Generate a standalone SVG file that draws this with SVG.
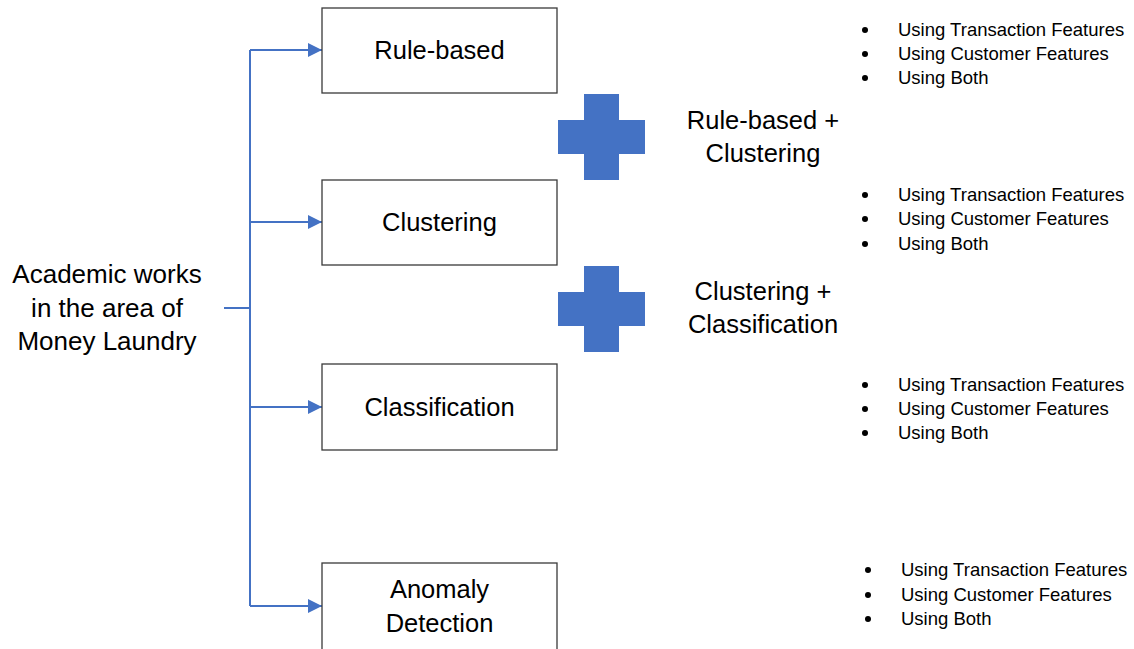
<svg xmlns="http://www.w3.org/2000/svg" width="1134" height="649" viewBox="0 0 1134 649">
<defs>
<style>
.box{fill:#fff;stroke:#3a3a3a;stroke-width:1.3}
.lbl{font-family:"Liberation Sans",Arial,sans-serif;font-size:25.5px;fill:#000;text-anchor:middle}
.big{font-size:26px}
.bl{font-family:"Liberation Sans",Arial,sans-serif;font-size:18.5px;fill:#000}
.con{fill:none;stroke:#4472C4;stroke-width:2}
.plus{fill:#4472C4}
</style>
<marker id="ah" viewBox="0 0 10 10" refX="10" refY="5" markerWidth="14" markerHeight="14" markerUnits="userSpaceOnUse" orient="auto">
<path d="M0,0 L10,5 L0,10 z" fill="#4472C4"/>
</marker>
</defs>
<rect width="1134" height="649" fill="#fff"/>
<g id="connectors">
<path class="con" d="M224,308 H250"/>
<path class="con" d="M250,50 V606"/>
<path class="con" d="M250,50 H322" marker-end="url(#ah)"/>
<path class="con" d="M250,222 H322" marker-end="url(#ah)"/>
<path class="con" d="M250,407 H322" marker-end="url(#ah)"/>
<path class="con" d="M250,606 H322" marker-end="url(#ah)"/>
</g>
<g id="root">
<text class="lbl big" x="107" y="283">Academic works</text>
<text class="lbl big" x="107" y="317">in the area of</text>
<text class="lbl big" x="107" y="350">Money Laundry</text>
</g>
<g id="rule-based">
<rect class="box" x="322" y="8" width="235" height="85"/>
<text class="lbl" x="439.5" y="59">Rule-based</text>
</g>
<g id="clustering">
<rect class="box" x="322" y="180" width="235" height="85"/>
<text class="lbl" x="439.5" y="231">Clustering</text>
</g>
<g id="classification">
<rect class="box" x="322" y="364" width="235" height="86"/>
<text class="lbl" x="439.5" y="416">Classification</text>
</g>
<g id="anomaly">
<rect class="box" x="322" y="563" width="235" height="90"/>
<text class="lbl" x="439.5" y="598">Anomaly</text>
<text class="lbl" x="439.5" y="632">Detection</text>
</g>
<g id="plus1">
<path class="plus" d="M584,94 H619 V120 H645 V154 H619 V180 H584 V154 H558 V120 H584 Z"/>
<text class="lbl" x="763" y="129">Rule-based +</text>
<text class="lbl" x="763" y="162">Clustering</text>
</g>
<g id="plus2">
<path class="plus" d="M584,266 H619 V292 H645 V326 H619 V352 H584 V326 H558 V292 H584 Z"/>
<text class="lbl" x="763" y="300">Clustering +</text>
<text class="lbl" x="763" y="333">Classification</text>
</g>
<g id="bullets1">
<circle cx="865" cy="30" r="3"/><text class="bl" x="898" y="36">Using Transaction Features</text>
<circle cx="865" cy="54" r="3"/><text class="bl" x="898" y="60">Using Customer Features</text>
<circle cx="865" cy="78" r="3"/><text class="bl" x="898" y="84">Using Both</text>
</g>
<g id="bullets2">
<circle cx="865" cy="195" r="3"/><text class="bl" x="898" y="201">Using Transaction Features</text>
<circle cx="865" cy="219" r="3"/><text class="bl" x="898" y="225">Using Customer Features</text>
<circle cx="865" cy="244" r="3"/><text class="bl" x="898" y="250">Using Both</text>
</g>
<g id="bullets3">
<circle cx="865" cy="385" r="3"/><text class="bl" x="898" y="391">Using Transaction Features</text>
<circle cx="865" cy="409" r="3"/><text class="bl" x="898" y="415">Using Customer Features</text>
<circle cx="865" cy="433" r="3"/><text class="bl" x="898" y="439">Using Both</text>
</g>
<g id="bullets4">
<circle cx="868" cy="570" r="3"/><text class="bl" x="901" y="576">Using Transaction Features</text>
<circle cx="868" cy="595" r="3"/><text class="bl" x="901" y="601">Using Customer Features</text>
<circle cx="868" cy="619" r="3"/><text class="bl" x="901" y="625">Using Both</text>
</g>
</svg>
